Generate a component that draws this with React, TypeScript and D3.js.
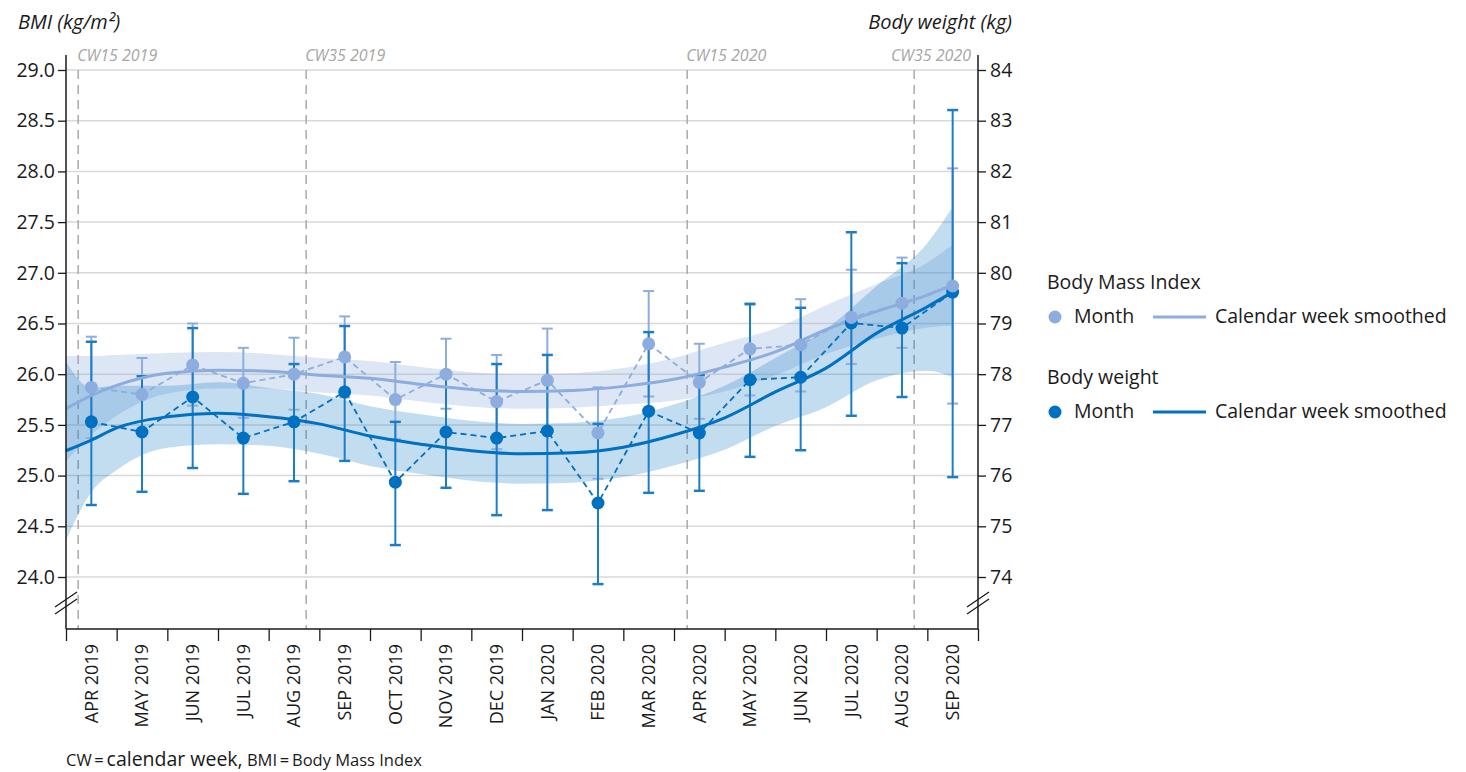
import { useEffect, useRef } from 'react'
import * as d3 from 'd3'

const months = [
  'APR 2019', 'MAY 2019', 'JUN 2019', 'JUL 2019', 'AUG 2019', 'SEP 2019',
  'OCT 2019', 'NOV 2019', 'DEC 2019', 'JAN 2020', 'FEB 2020', 'MAR 2020',
  'APR 2020', 'MAY 2020', 'JUN 2020', 'JUL 2020', 'AUG 2020', 'SEP 2020',
]

// monthly means with error bars
const bmiMean = [25.87, 25.8, 26.09, 25.91, 26.0, 26.17, 25.75, 26.0, 25.73, 25.94, 25.42, 26.3, 25.92, 26.25, 26.29, 26.56, 26.7, 26.87]
const bmiLow = [25.37, 25.45, 25.69, 25.57, 25.65, 25.77, 25.36, 25.66, 25.26, 25.44, 24.97, 25.78, 25.56, 25.79, 25.83, 26.1, 26.26, 25.71]
const bmiHigh = [26.37, 26.16, 26.5, 26.26, 26.36, 26.57, 26.12, 26.35, 26.19, 26.45, 25.87, 26.82, 26.3, 26.7, 26.74, 27.03, 27.15, 28.03]
const weightMean = [77.06, 76.86, 77.55, 76.74, 77.06, 77.65, 75.87, 76.86, 76.74, 76.88, 75.46, 77.27, 76.84, 77.89, 77.94, 79.01, 78.91, 79.62]
const weightLow = [75.42, 75.68, 76.15, 75.64, 75.89, 76.29, 74.63, 75.76, 75.22, 75.32, 73.86, 75.66, 75.7, 76.37, 76.5, 77.18, 77.55, 75.97]
const weightHigh = [78.64, 77.96, 78.91, 77.85, 78.2, 78.95, 77.06, 77.96, 78.2, 78.38, 77.02, 78.83, 77.98, 79.38, 79.31, 80.8, 80.19, 83.21]

// calendar-week smoothed curves, sampled in months since Apr 2019
const smoothT = [0, 0.5, 1, 2, 3, 4, 5, 6, 7, 8, 9, 10, 11, 12, 13, 14, 15, 16, 17, 17.5]
const bmiSmooth = [25.66, 25.79, 25.89, 26.01, 26.04, 26.03, 25.99, 25.96, 25.9, 25.85, 25.83, 25.84, 25.88, 25.95, 26.07, 26.22, 26.44, 26.62, 26.78, 26.88]
const bmiCI = [0.52, 0.39, 0.3, 0.2, 0.18, 0.17, 0.17, 0.17, 0.17, 0.17, 0.17, 0.17, 0.18, 0.21, 0.24, 0.23, 0.24, 0.27, 0.32, 0.4]
const weightSmooth = [76.49, 76.7, 76.94, 77.16, 77.23, 77.16, 77.02, 76.78, 76.62, 76.49, 76.43, 76.45, 76.56, 76.8, 77.14, 77.65, 78.12, 78.81, 79.33, 79.62]
const weightCI = [1.76, 1.03, 0.83, 0.61, 0.61, 0.57, 0.59, 0.59, 0.59, 0.59, 0.59, 0.59, 0.59, 0.6, 0.63, 0.67, 0.77, 0.93, 1.26, 1.68]

const bmiTicks = [24, 24.5, 25, 25.5, 26, 26.5, 27, 27.5, 28, 28.5, 29]
const weightTicks = [74, 75, 76, 77, 78, 79, 80, 81, 82, 83, 84]

const cwMarks = [
  { t: 0.24, label: 'CW15 2019' },
  { t: 4.74, label: 'CW35 2019' },
  { t: 12.26, label: 'CW15 2020' },
  { t: 16.74, label: 'CW35 2020' },
]

const LIGHT = '#8cadde'
const DARK = '#0070c0'
const DARK_BAR = '#1e7cc6'
const FONT = "'Open Sans', sans-serif"

export default function App() {
  const svgRef = useRef<SVGSVGElement>(null)

  useEffect(() => {
    document.body.style.margin = '0'
    const svg = d3.select(svgRef.current)
    svg.selectAll('*').remove()

    const x = d3.scaleLinear().domain([0, 18]).range([66, 978])
    const yB = d3.scaleLinear().domain([24, 29]).range([577, 70])
    const yW = d3.scaleLinear().domain([74, 84]).range([577, 70])
    const base = 629
    const top = 55
    const idx = d3.range(months.length)
    const cx = (i: number) => x(i + 0.5)

    // grid
    svg.append('g').selectAll('line').data(bmiTicks).join('line')
      .attr('x1', x(0)).attr('x2', x(18))
      .attr('y1', d => yB(d)).attr('y2', d => yB(d))
      .attr('stroke', '#d9d9d9').attr('stroke-width', 1.5)

    // calendar week markers
    const cw = svg.append('g')
    cw.selectAll('line').data(cwMarks).join('line')
      .attr('x1', d => x(d.t)).attr('x2', d => x(d.t))
      .attr('y1', yB(29)).attr('y2', base)
      .attr('stroke', '#aaaaaa').attr('stroke-width', 1.5).attr('stroke-dasharray', '9,6')
    cw.selectAll('text').data(cwMarks).join('text')
      .attr('x', (d, i) => i === cwMarks.length - 1 ? x(18) - 7 : x(d.t) - 1)
      .attr('y', 61)
      .attr('text-anchor', (d, i) => i === cwMarks.length - 1 ? 'end' : 'start')
      .attr('font-family', FONT).attr('font-style', 'italic').attr('font-size', 16)
      .attr('fill', '#a6a6a6')
      .text(d => d.label)

    // smoothed bands
    const si = d3.range(smoothT.length)
    const areaB = d3.area<number>()
      .x(i => x(smoothT[i]))
      .y0(i => yB(bmiSmooth[i] - bmiCI[i])).y1(i => yB(bmiSmooth[i] + bmiCI[i]))
      .curve(d3.curveMonotoneX)
    const areaW = d3.area<number>()
      .x(i => x(smoothT[i]))
      .y0(i => yW(weightSmooth[i] - weightCI[i])).y1(i => yW(weightSmooth[i] + weightCI[i]))
      .curve(d3.curveMonotoneX)
    svg.append('path').datum(si).attr('d', areaB).attr('fill', LIGHT).attr('fill-opacity', 0.3)
    svg.append('path').datum(si).attr('d', areaW).attr('fill', DARK).attr('fill-opacity', 0.24)

    // error bars
    const bars = (lo: number[], hi: number[], y: d3.ScaleLinear<number, number>, color: string, w: number) => {
      const g = svg.append('g').attr('stroke', color).attr('fill', 'none')
      g.selectAll('line.v').data(idx).join('line').attr('class', 'v')
        .attr('x1', cx).attr('x2', cx).attr('y1', i => y(lo[i])).attr('y2', i => y(hi[i]))
        .attr('stroke-width', 2)
      for (const arr of [lo, hi]) {
        g.append('g').selectAll('line').data(idx).join('line')
          .attr('x1', i => cx(i) - 5.5).attr('x2', i => cx(i) + 5.5)
          .attr('y1', i => y(arr[i])).attr('y2', i => y(arr[i]))
          .attr('stroke-width', w)
      }
    }
    bars(bmiLow, bmiHigh, yB, LIGHT, 2)
    bars(weightLow, weightHigh, yW, DARK_BAR, 2.5)

    // smoothed lines
    const lineB = d3.line<number>().x(i => x(smoothT[i])).y(i => yB(bmiSmooth[i])).curve(d3.curveMonotoneX)
    const lineW = d3.line<number>().x(i => x(smoothT[i])).y(i => yW(weightSmooth[i])).curve(d3.curveMonotoneX)
    svg.append('path').datum(si).attr('d', lineB).attr('fill', 'none').attr('stroke', LIGHT).attr('stroke-width', 3)
    svg.append('path').datum(si).attr('d', lineW).attr('fill', 'none').attr('stroke', DARK).attr('stroke-width', 3)

    // monthly dashed connectors
    const connB = d3.line<number>().x(cx).y(i => yB(bmiMean[i]))
    const connW = d3.line<number>().x(cx).y(i => yW(weightMean[i]))
    svg.append('path').datum(idx).attr('d', connB).attr('fill', 'none')
      .attr('stroke', LIGHT).attr('stroke-width', 1.8).attr('stroke-dasharray', '6,4')
    svg.append('path').datum(idx).attr('d', connW).attr('fill', 'none')
      .attr('stroke', DARK).attr('stroke-width', 1.8).attr('stroke-dasharray', '6,4')

    // monthly points
    svg.append('g').selectAll('circle').data(idx).join('circle')
      .attr('cx', cx).attr('cy', i => yW(weightMean[i])).attr('r', 6.5).attr('fill', DARK)
    svg.append('g').selectAll('circle').data(idx).join('circle')
      .attr('cx', cx).attr('cy', i => yB(bmiMean[i])).attr('r', 6.5).attr('fill', LIGHT)

    // axes
    const styleAxis = (g: d3.Selection<SVGGElement, unknown, null, undefined>) => {
      g.select('.domain').remove()
      g.selectAll('.tick line').attr('stroke', '#1a1a1a').attr('stroke-width', 1.3)
      g.selectAll('.tick text').attr('font-family', FONT).attr('font-size', 19.5).attr('fill', '#1a1a1a')
    }
    svg.append('g').attr('transform', `translate(${x(0)},0)`)
      .call(d3.axisLeft(yB).tickValues(bmiTicks).tickFormat(d3.format('.1f')).tickSize(8).tickPadding(3))
      .call(styleAxis)
    svg.append('g').attr('transform', `translate(${x(18)},0)`)
      .call(d3.axisRight(yW).tickValues(weightTicks).tickFormat(d3.format('d')).tickSize(8).tickPadding(4))
      .call(styleAxis)
    svg.append('g').attr('transform', `translate(0,${base})`)
      .call(d3.axisBottom(x).tickValues(d3.range(0, 19)).tickFormat(() => '').tickSize(12))
      .call(styleAxis)

    const axisLines = svg.append('g').attr('stroke', '#1a1a1a').attr('stroke-width', 1.5)
    axisLines.append('line').attr('x1', x(0)).attr('x2', x(0)).attr('y1', top).attr('y2', base)
    axisLines.append('line').attr('x1', x(18)).attr('x2', x(18)).attr('y1', top).attr('y2', base)
    axisLines.append('line').attr('x1', x(0)).attr('x2', x(18)).attr('y1', base).attr('y2', base)

    // axis breaks
    for (const ax of [x(0), x(18)]) {
      const brk = svg.append('g').attr('stroke', '#1a1a1a').attr('stroke-width', 1.3)
      for (const off of [0, 7]) {
        brk.append('line')
          .attr('x1', ax - 11).attr('y1', 614 - off)
          .attr('x2', ax + 11).attr('y2', 599 - off)
      }
    }

    // month labels
    svg.append('g').selectAll('text').data(months).join('text')
      .attr('transform', (_, i) => `translate(${cx(i)},${base + 15}) rotate(-90)`)
      .attr('dy', '0.35em').attr('text-anchor', 'end')
      .attr('font-family', FONT).attr('font-size', 18).attr('fill', '#1a1a1a')
      .text(d => d)

    // axis titles
    svg.append('text').attr('x', 18).attr('y', 29)
      .attr('font-family', FONT).attr('font-style', 'italic').attr('font-size', 20).attr('fill', '#1a1a1a')
      .text('BMI (kg/m²)')
    svg.append('text').attr('x', 1012).attr('y', 29).attr('text-anchor', 'end')
      .attr('font-family', FONT).attr('font-style', 'italic').attr('font-size', 20).attr('fill', '#1a1a1a')
      .text('Body weight (kg)')

    // legend
    const legend = [
      { title: 'Body Mass Index', color: LIGHT, y: 289 },
      { title: 'Body weight', color: DARK, y: 384 },
    ]
    const lg = svg.append('g').attr('font-family', FONT).attr('font-size', 19.5).attr('fill', '#1a1a1a')
    legend.forEach(l => {
      lg.append('text').attr('x', 1047).attr('y', l.y).text(l.title)
      lg.append('circle').attr('cx', 1055).attr('cy', l.y + 28).attr('r', 6.5).attr('fill', l.color)
      lg.append('text').attr('x', 1074).attr('y', l.y + 34).text('Month')
      lg.append('line').attr('x1', 1153).attr('x2', 1206).attr('y1', l.y + 28).attr('y2', l.y + 28)
        .attr('stroke', l.color).attr('stroke-width', 3)
      lg.append('text').attr('x', 1215).attr('y', l.y + 34).text('Calendar week smoothed')
    })

    // footnote
    const fn = svg.append('text').attr('x', 66).attr('y', 766)
      .attr('font-family', FONT).attr('fill', '#1a1a1a').attr('font-size', 16.5)
    fn.append('tspan').text('CW\u2009=\u2009')
    fn.append('tspan').attr('font-size', 19.5).text('calendar week,')
    fn.append('tspan').text(' BMI\u2009=\u2009Body Mass Index')
  }, [])

  return <svg ref={svgRef} width={1466} height={772} style={{ display: 'block' }} />
}
